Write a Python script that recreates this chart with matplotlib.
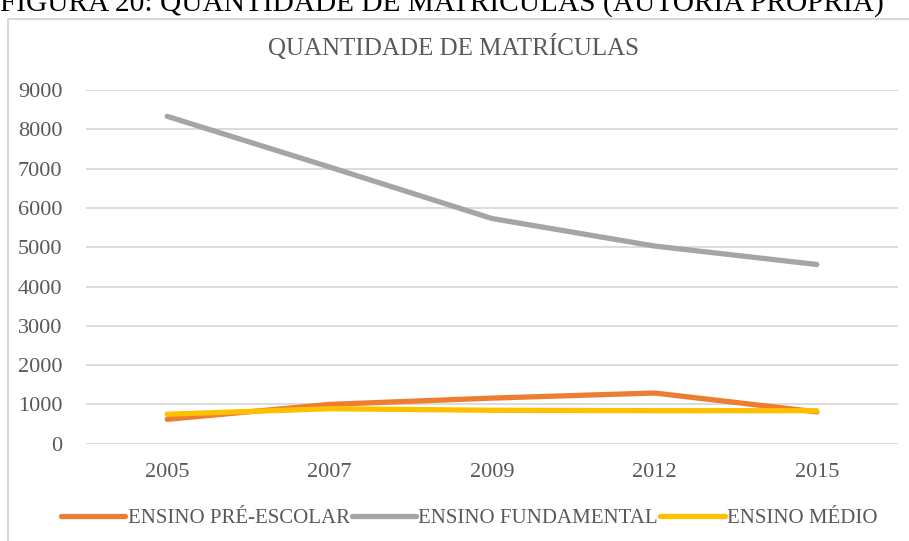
import matplotlib
matplotlib.use("Agg")
import matplotlib.pyplot as plt
from matplotlib.patches import Rectangle

years = ["2005", "2007", "2009", "2012", "2015"]
pre_escolar = [620, 1000, 1160, 1290, 810]
fundamental = [8330, 7040, 5730, 5030, 4560]
medio = [750, 890, 850, 840, 840]
series_names = ["ENSINO PRÉ-ESCOLAR", "ENSINO FUNDAMENTAL", "ENSINO MÉDIO"]
yticks = [0, 1000, 2000, 3000, 4000, 5000, 6000, 7000, 8000, 9000]

plt.rcParams['font.family'] = ['Liberation Serif', 'DejaVu Serif']
W, H = 909, 541
fig = plt.figure(figsize=(W / 100, H / 100), dpi=100)
fig.patch.set_facecolor('white')

# chart border
fig.add_artist(Rectangle((8 / W, -0.05), 1.1, (H - 19) / H + 0.05, transform=fig.transFigure,
                         fill=False, edgecolor='#d9d9d9', linewidth=1.5))

# cropped caption on top
fig.text(0.0, 1 - 11 / H, "FIGURA 20: QUANTIDADE DE MATRÍCULAS (AUTORIA PRÓPRIA)",
         ha='left', va='baseline', fontsize=21.2, color='black')

ax = fig.add_axes([86 / W, (H - 443.7) / H, 812 / W, (443.7 - 90) / H])
x = list(range(len(years)))
ax.plot(x, pre_escolar, color='#ED7D31', lw=3.8, solid_capstyle='round', label=series_names[0], zorder=3)
ax.plot(x, fundamental, color='#A5A5A5', lw=3.8, solid_capstyle='round', label=series_names[1], zorder=3)
ax.plot(x, medio, color='#FFC000', lw=3.8, solid_capstyle='round', label=series_names[2], zorder=4)

ax.set_xlim(-0.5, len(years) - 0.5)
ax.set_ylim(0, 9000)
ax.set_yticks(yticks)
ax.set_yticklabels([str(v) for v in yticks])
ax.set_xticks(x)
ax.set_xticklabels(years)
ax.grid(axis='y', color='#d9d9d9', linewidth=1.3)
ax.set_axisbelow(True)
for s in ax.spines.values():
    s.set_visible(False)
ax.tick_params(axis='both', length=0, labelsize=16, colors='#595959')
ax.tick_params(axis='y', pad=17)
ax.tick_params(axis='x', pad=14)

fig.text(453 / W, 1 - 47 / H, "QUANTIDADE DE MATRÍCULAS", ha='center', va='center',
         fontsize=18, color='#595959')

leg = fig.legend(loc='center', bbox_to_anchor=(469 / W, 1 - 518 / H), ncol=3, frameon=False,
                 fontsize=15, handlelength=3.1, handletextpad=0.1, columnspacing=0.1,
                 labelcolor='#595959')

fig.savefig("out.png", dpi=100, facecolor='white')
